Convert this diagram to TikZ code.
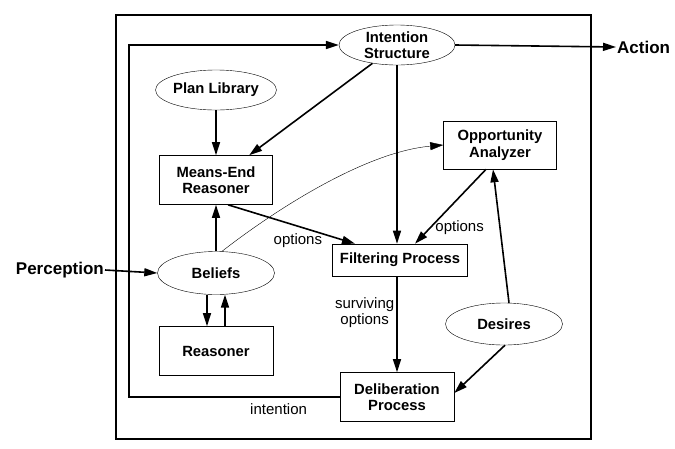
\documentclass[tikz,border=0pt]{standalone}
\usepackage{fontspec}
\setmainfont{Liberation Sans}
\usetikzlibrary{arrows.meta,shapes.geometric}

\begin{document}
\begin{tikzpicture}[x=1pt, y=-1pt, >={Triangle[length=13pt,width=8pt]},
    box/.style={draw, line width=0.6pt, inner sep=0pt, align=center,
        font=\fontsize{14.8}{16.5}\selectfont\bfseries},
    oval/.style={ellipse, draw, line width=0.4pt, inner sep=0pt, align=center,
        font=\fontsize{14.8}{16.5}\selectfont\bfseries},
    io/.style={inner sep=1pt, font=\fontsize{17}{19}\selectfont\bfseries},
    lbl/.style={inner sep=1pt, align=center, font=\fontsize{15}{16.5}\selectfont},
    flow/.style={->, line width=1.6pt},
    weakflow/.style={->, line width=0.4pt}]

    \useasboundingbox (0,0) rectangle (675,448);

    % --- Outer frame ---
    \draw[line width=1.5pt] (116,15) rectangle (591,439);

    % --- Nodes ---
    \node[oval, minimum width=116pt, minimum height=40pt] (IS) at (397,45) {Intention\\Structure};
    \node[oval, minimum width=118pt, minimum height=40pt] (PL) at (216,90) {Plan Library};
    \node[box, minimum width=113pt, minimum height=49pt] (MER) at (216,180) {Means-End\\Reasoner};
    \node[box, minimum width=113pt, minimum height=48pt] (OA) at (500,145) {Opportunity\\Analyzer};
    \node[oval, minimum width=117pt, minimum height=43pt] (BL) at (216,273) {Beliefs};
    \node[box, minimum width=114pt, minimum height=49pt] (RS) at (216,351) {Reasoner};
    \node[box, minimum width=135pt, minimum height=32pt] (FP) at (400,260) {Filtering Process};
    \node[box, minimum width=114pt, minimum height=49pt] (DP) at (397,397) {Deliberation\\Process};
    \node[oval, minimum width=117pt, minimum height=42pt] (DS) at (504,324) {Desires};

    % --- Inputs and outputs ---
    \node[io, anchor=west] (act) at (616,47) {Action};
    \node[io, anchor=east] (perc) at (105,270) {Perception};
    \coordinate (loopL) at (129,0);

    \draw[flow] (IS.east) -- (act.west);
    \draw[flow] (perc.east) -- (BL.west);

    % --- Intention feedback loop ---
    \draw[flow] (DP.west) -- node[lbl, pos=0.29, below=5pt] {intention}
        (DP.west -| loopL) |- (IS.west);

    % --- Main flows ---
    \draw[flow] (IS) -- (MER);
    \draw[flow] (IS.south) -- (IS.south |- FP.north);
    \draw[flow] (PL.south) -- (PL.south |- MER.north);
    \draw[flow] (BL.north) -- (BL.north |- MER.south);
    \draw[flow] ([xshift=12pt]MER.south) -- node[lbl, pos=0.55, below=6pt] {options}
        ([xshift=-45pt]FP.north);
    \draw[flow] ([xshift=-14pt]OA.south) -- node[lbl, pos=0.78, right=3pt] {options}
        ([xshift=15pt]FP.north);
    \draw[flow] (DP.north |- FP.south) -- node[lbl, pos=0.38, left=1pt] {surviving\\options}
        (DP.north);
    \draw[flow] ([xshift=5pt]DS.north) -- ([xshift=-7pt]OA.south);
    \draw[flow] ([xshift=1pt]DS.south) -- ([yshift=4pt]DP.east);

    % --- Beliefs and reasoner ---
    \draw[flow] ([xshift=-9pt]BL.south) -- ([xshift=-9pt]BL.south |- RS.north);
    \draw[flow] ([xshift=9pt]BL.south |- RS.north) -- ([xshift=9pt]BL.south);

    % --- Beliefs to opportunity analyzer ---
    \draw[weakflow] ([xshift=6pt]BL.north) .. controls (275,210) and (365,152) .. (OA.west);

\end{tikzpicture}
\end{document}
